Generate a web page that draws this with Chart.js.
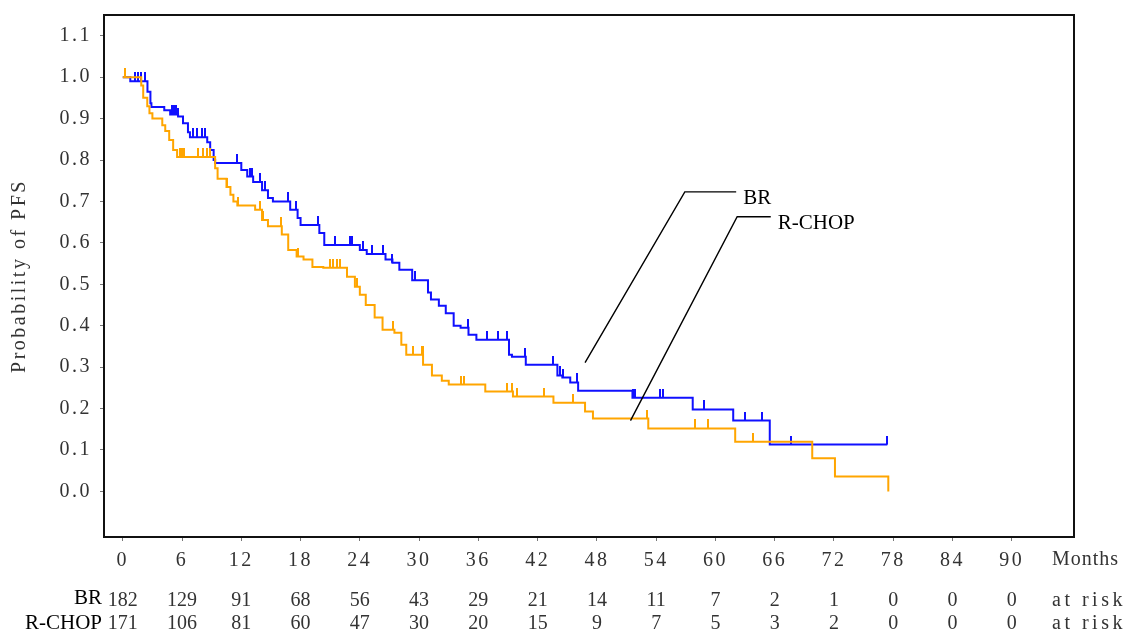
<!DOCTYPE html>
<html>
<head>
<meta charset="utf-8">
<script src="https://cdn.jsdelivr.net/npm/chart.js@4.4.1/dist/chart.umd.min.js"></script>
<style>
  html, body { margin: 0; padding: 0; background: #fff; }
  #wrap { width: 1129px; height: 633px; position: relative; }
</style>
</head>
<body>
<div id="wrap"><canvas id="km"></canvas></div>
<script>
// Kaplan-Meier PFS, BR vs R-CHOP

const X_TICKS = [0, 6, 12, 18, 24, 30, 36, 42, 48, 54, 60, 66, 72, 78, 84, 90];
const Y_TICKS = [0.0, 0.1, 0.2, 0.3, 0.4, 0.5, 0.6, 0.7, 0.8, 0.9, 1.0, 1.1];

// event times (months) and survival after each step
const BR_TIMES = [0, 0.76, 2.5, 2.8, 2.9, 4.2, 4.8, 5.6, 6.1, 6.6, 6.8, 8.55, 8.85, 9.2, 9.35,
  12.0, 12.6, 13.2, 14.1, 14.7, 15.2, 16.95, 17.7, 18.0, 19.9, 20.4, 24.0, 24.7, 26.6, 27.3,
  28.0, 29.3, 30.9, 31.2, 32.0, 32.7, 33.5, 34.2, 35.0, 35.8, 39.1, 39.4, 40.8, 44.0, 44.5,
  45.3, 46.1, 51.6, 57.7, 61.8, 65.5, 77.4];
const BR_SURV = [1.0, 0.99, 0.965, 0.937, 0.928, 0.92, 0.91, 0.905, 0.889, 0.867, 0.855, 0.843, 0.824, 0.80, 0.793,
  0.776, 0.76, 0.747, 0.727, 0.708, 0.70, 0.68, 0.66, 0.643, 0.624, 0.595, 0.583, 0.573, 0.56, 0.552,
  0.535, 0.51, 0.48, 0.463, 0.448, 0.43, 0.40, 0.395, 0.378, 0.366, 0.33, 0.325, 0.306, 0.28, 0.275,
  0.263, 0.243, 0.226, 0.198, 0.171, 0.113, 0.113];
const BR_CENSOR = [1.27, 1.57, 1.87, 2.28, 5.0, 5.2, 5.4, 5.6, 7.1, 7.5, 8.0, 8.35, 11.6, 12.9, 13.1,
  13.9, 14.4, 16.7, 17.5, 19.8, 21.5, 23.0, 23.2, 24.3, 25.25, 26.3, 27.3, 29.6, 34.9, 36.9, 38.0,
  38.9, 40.7, 43.6, 44.3, 44.6, 46.0, 51.7, 51.9, 54.4, 54.7, 58.8, 63.0, 64.7, 67.6, 77.4];

const RCHOP_TIMES = [0, 1.87, 2.07, 2.48, 2.7, 3.0, 4.0, 4.3, 4.7, 5.1, 5.5, 9.35, 9.6, 10.5, 10.9,
  11.2, 11.6, 13.4, 14.1, 14.7, 16.1, 16.75, 17.6, 18.3, 19.2, 20.3, 22.7, 23.5, 24.0, 24.6,
  25.5, 26.3, 27.5, 28.2, 28.7, 30.4, 31.3, 32.3, 33.0, 36.7, 39.5, 43.6, 46.8, 47.6, 53.2,
  62.0, 69.8, 72.1, 77.5];
const RCHOP_SURV = [1.0, 0.98, 0.95, 0.93, 0.913, 0.90, 0.884, 0.87, 0.848, 0.824, 0.807, 0.78, 0.755, 0.735, 0.716,
  0.70, 0.69, 0.68, 0.655, 0.64, 0.62, 0.583, 0.567, 0.56, 0.542, 0.54, 0.518, 0.494, 0.475, 0.45,
  0.42, 0.39, 0.383, 0.354, 0.33, 0.306, 0.28, 0.267, 0.258, 0.241, 0.229, 0.214, 0.193, 0.176, 0.152,
  0.12, 0.08, 0.036, 0.0];
const RCHOP_CENSOR = [0.25, 5.8, 6.0, 6.2, 7.6, 8.1, 8.55, 8.85, 10.6, 11.7, 13.9, 14.2, 16.0, 17.7,
  21.0, 21.3, 21.7, 22.0, 23.7, 27.4, 29.4, 30.3, 30.35, 34.2, 34.5, 38.9, 39.4, 39.9, 42.6, 45.6,
  53.1, 57.9, 59.2, 63.8];

const BR_AT_RISK    = [182, 129, 91, 68, 56, 43, 29, 21, 14, 11, 7, 2, 1, 0, 0, 0];
const RCHOP_AT_RISK = [171, 106, 81, 60, 47, 30, 20, 15, 9, 7, 5, 3, 2, 0, 0, 0];

const BLUE   = '#1010ff';
const ORANGE = '#ffa500';
const SERIF  = "'Liberation Serif', 'Times New Roman', serif";

// leader lines for the curve labels, in data units (month, probability)
const CALLOUTS = [
  { label: 'BR',     from: [46.8, 0.311], elbow: [56.9, 0.723], end: [62.1, 0.723] },
  { label: 'R-CHOP', from: [51.4, 0.171], elbow: [62.2, 0.663], end: [65.6, 0.663] },
];

function stepPoints(times, surv) {
  return times.map((t, i) => ({ x: t, y: surv[i] }));
}

function survAt(times, surv, t) {
  let s = surv[0];
  for (let i = 0; i < times.length; i++) {
    if (times[i] <= t) s = surv[i];
  }
  return s;
}

// upward censor tick: image twice as tall as the tick, colour in top half
function tickImage(color) {
  const c = document.createElement('canvas');
  c.width = 2;
  c.height = 18;
  const g = c.getContext('2d');
  g.fillStyle = color;
  g.fillRect(0, 0, 2, 9);
  return c;
}

const kmPlugin = {
  id: 'kmExtras',
  beforeDraw(chart) {
    // the original axis font is a wide monospaced one
    chart.ctx.letterSpacing = '2.5px';
  },
  afterDatasetsDraw(chart) {
    const { ctx, chartArea: a, scales: { x, y } } = chart;
    ctx.save();

    // frame
    ctx.strokeStyle = '#111';
    ctx.lineWidth = 2;
    ctx.strokeRect(a.left, a.top, a.right - a.left, a.bottom - a.top);

    // curve labels
    ctx.letterSpacing = '0px';
    ctx.lineWidth = 1.4;
    ctx.strokeStyle = '#000';
    ctx.fillStyle = '#000';
    ctx.font = `21px ${SERIF}`;
    ctx.textBaseline = 'middle';
    ctx.textAlign = 'left';
    CALLOUTS.forEach(c => {
      ctx.beginPath();
      ctx.moveTo(x.getPixelForValue(c.from[0]), y.getPixelForValue(c.from[1]));
      ctx.lineTo(x.getPixelForValue(c.elbow[0]), y.getPixelForValue(c.elbow[1]));
      ctx.lineTo(x.getPixelForValue(c.end[0]), y.getPixelForValue(c.end[1]));
      ctx.stroke();
      ctx.fillText(c.label, x.getPixelForValue(c.end[0]) + 7, y.getPixelForValue(c.end[1]) + 7);
    });

    // unit label and numbers at risk
    ctx.fillStyle = '#333';
    ctx.font = `20px ${SERIF}`;
    ctx.letterSpacing = '1px';
    ctx.fillText('Months', a.right - 22, 560);
    ctx.letterSpacing = '3.5px';
    ctx.fillText('at risk', a.right - 22, 601);
    ctx.fillText('at risk', a.right - 22, 624);

    ctx.letterSpacing = '0px';
    ctx.textAlign = 'center';
    X_TICKS.forEach((t, i) => {
      const px = x.getPixelForValue(t);
      ctx.fillText(String(BR_AT_RISK[i]), px, 601);
      ctx.fillText(String(RCHOP_AT_RISK[i]), px, 624);
    });

    ctx.fillStyle = '#000';
    ctx.font = `21px ${SERIF}`;
    ctx.textAlign = 'right';
    ctx.fillText('BR', a.left - 2, 598);
    ctx.fillText('R-CHOP', a.left - 2, 623);

    ctx.restore();
  },
  afterDraw(chart) {
    chart.ctx.letterSpacing = '0px';
  },
};

const lineDs = (label, times, surv, color) => ({
  label,
  data: stepPoints(times, surv),
  stepped: true,
  borderColor: color,
  borderWidth: 2,
  pointRadius: 0,
  fill: false,
});

const censorDs = (label, times, surv, cens, color) => ({
  label,
  data: cens.map(t => ({ x: t, y: survAt(times, surv, t) })),
  showLine: false,
  pointStyle: tickImage(color),
  pointRadius: 5,
  pointHoverRadius: 5,
});

new Chart(document.getElementById('km'), {
  type: 'line',
  data: {
    // first dataset is painted on top: orange over blue
    datasets: [
      lineDs('R-CHOP', RCHOP_TIMES, RCHOP_SURV, ORANGE),
      censorDs('R-CHOP censored', RCHOP_TIMES, RCHOP_SURV, RCHOP_CENSOR, ORANGE),
      lineDs('BR', BR_TIMES, BR_SURV, BLUE),
      censorDs('BR censored', BR_TIMES, BR_SURV, BR_CENSOR, BLUE),
    ],
  },
  options: {
    responsive: true,
    maintainAspectRatio: false,
    animation: false,
    events: [],
    layout: { padding: { top: 15, right: 55, bottom: 0, left: 0 } },
    plugins: {
      legend: { display: false },
      tooltip: { enabled: false },
    },
    scales: {
      x: {
        type: 'linear',
        min: -1.9,
        max: 96.3,
        afterBuildTicks: s => { s.ticks = X_TICKS.map(v => ({ value: v })); },
        afterFit: s => { s.height = 96; s.paddingLeft = 0; s.paddingRight = 0; },
        border: { display: false },
        grid: { drawOnChartArea: false, tickLength: 4, color: '#777' },
        ticks: {
          color: '#333',
          padding: 8,
          maxRotation: 0,
          autoSkip: false,
          font: { family: SERIF, size: 20 },
          callback: v => String(v),
        },
      },
      y: {
        type: 'linear',
        min: -0.11,
        max: 1.15,
        afterBuildTicks: s => { s.ticks = Y_TICKS.map(v => ({ value: v })); },
        afterFit: s => { s.width = 104; s.paddingTop = 0; s.paddingBottom = 0; },
        border: { display: false },
        grid: { drawOnChartArea: false, tickLength: 4, color: '#777' },
        ticks: {
          color: '#333',
          padding: 8,
          font: { family: SERIF, size: 20 },
          callback: v => Number(v).toFixed(1),
        },
        title: {
          display: true,
          text: 'Probability of PFS',
          color: '#333',
          padding: { top: 8, bottom: 0 },
          font: { family: SERIF, size: 20 },
        },
      },
    },
  },
  plugins: [kmPlugin],
});
</script>
</body>
</html>
